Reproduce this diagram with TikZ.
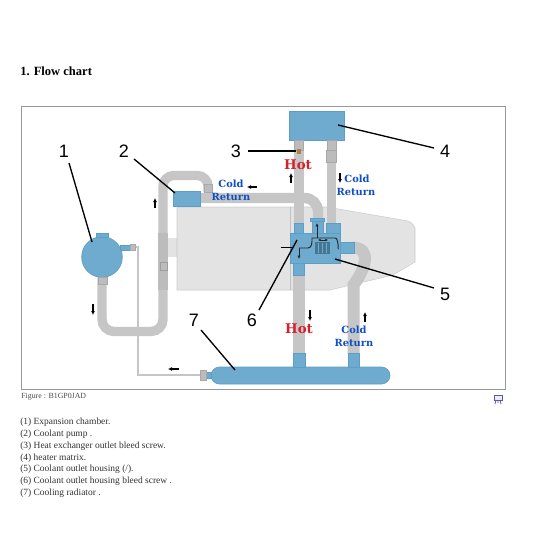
\documentclass[tikz,border=0pt]{standalone}
\usepackage{fontspec}
\setmainfont{Liberation Serif}
\newfontfamily\numfont{Liberation Sans}
\newfontfamily\flowfont{DejaVu Serif}
\usepackage{xcolor}
\usetikzlibrary{arrows.meta,positioning}
\definecolor{cpblue}{HTML}{6FABCE}
\definecolor{cpedge}{HTML}{5C9FC6}
\definecolor{cphose}{HTML}{C6C6C6}
\definecolor{cpblock}{HTML}{E3E3E3}
\definecolor{cpframe}{HTML}{989898}
\definecolor{cphot}{HTML}{D9202A}
\definecolor{cpcold}{HTML}{0F4FC4}
\newcommand{\Listline}[2]{\node[listitem] (#1) at (20,#2)}

\begin{document}
\begin{tikzpicture}[
  x=0.75pt,
  y=-0.75pt,
  partbox/.style={fill=cpblue, draw=cpedge, line width=0.5pt},
  hose/.style={draw=cphose, line width=7pt},
  thinhose/.style={draw=cphose, line width=1.8pt},
  fitting/.style={fill=cphose!95!black, draw=cphose!85!black, line width=0.3pt},
  leader/.style={draw=black, line width=1pt},
  number/.style={font=\numfont\fontsize{13.5}{15}\selectfont, inner sep=0pt},
  hotlabel/.style={font=\flowfont\bfseries\fontsize{10}{11}\selectfont, text=cphot, inner sep=0pt},
  coldlabel/.style={font=\flowfont\bfseries\fontsize{7.4}{9}\selectfont, text=cpcold, inner sep=0pt},
  flow/.style={-{Latex[length=3pt,width=3pt]}, draw=black, line width=1pt},
  innerflow/.style={-{Latex[length=2.5pt,width=2.5pt]}, draw=black!85, line width=0.7pt},
  listitem/.style={anchor=west, inner sep=0pt, text=black!80, font=\fontsize{7.1}{9}\selectfont}
]
\useasboundingbox (0,0) rectangle (560,560);
\fill[white] (0,0) rectangle (560,560);

\node[anchor=west, inner sep=0pt, font=\bfseries\fontsize{9.4}{11}\selectfont] (title) at (20,71) {1. Flow chart};
\draw[cpframe, line width=0.7pt] (21,106) rectangle (505,389);

% engine block
\fill[cpblock] (168,238) rectangle (177,257);
\draw[cpblock!90!black, fill=cpblock, line width=0.4pt] (177,207) -- (327,207) -- (408,221) to[bend left=20] (415,228) -- (415,262) -- (393,275) -- (330,290) -- (177,290) -- cycle;
\draw[cpblock!85!black, line width=0.4pt] (290,207) -- (290,290);

% hoses
\draw[hose, rounded corners=9pt] (102,277) -- (102,331.5) -- (163,331.5) -- (163,240);
\draw[hose, rounded corners=8pt] (163,240) -- (163,175.5) -- (208,175.5) -- (208,192);
\draw[hose, rounded corners=10pt, line width=7.8pt] (198,198) -- (318,198) -- (318,219);
\draw[hose] (299,150) -- (299,232);
\draw[hose] (331.5,150) -- (331.5,232);
\draw[hose, line width=9pt] (299,263) -- (299,354);
\draw[hose, line width=9pt] (352,247.5) .. controls (372,247.5) and (366,268) .. (353.5,285) -- (353.5,354);
\draw[thinhose] (122,247) -- (138,247) -- (138,375) -- (202,375);
\fill[cphose!95!black] (158,233) rectangle (168,290);
\draw[cphose!80!black, line width=0.3pt] (160,262) rectangle (167,270);

% expansion chamber
\node[partbox, circle, minimum size=30.5pt, inner sep=0pt] (chamber) at (102,257) {};
\draw[partbox] (96,233) rectangle (108,237);
\draw[partbox] (120,245) rectangle (130,250);
\draw[fitting] (130,244.5) rectangle (135,250);
\draw[fitting] (98,277) rectangle (107,284);

% pump
\draw[partbox] (173,191) rectangle (200,206);
\draw[fitting] (204,184) rectangle (212,192);

% heater matrix
\draw[partbox] (289,111) rectangle (344,140);
\draw[fitting] (294.5,140) rectangle (303.5,150);
\draw[fitting] (327,140) rectangle (336,150);
\draw[fitting] (326.5,150) rectangle (336.5,162);
\fill[brown!70!gray] (297,149) rectangle (301,154);

% radiator
\draw[partbox, rounded corners=6.5pt] (211,367) rectangle (390,384);
\draw[partbox] (206,372.5) rectangle (211,378);
\draw[fitting] (200,370.5) rectangle (206,380);
\draw[partbox] (293,353) rectangle (305,367);
\draw[partbox] (348,353) rectangle (359,367);

% coolant outlet housing
\draw[partbox] (294,223) rectangle (303,233);
\draw[partbox] (326,223) rectangle (340,233);
\draw[partbox] (312,221) rectangle (323,233);
\draw[partbox] (310,218) rectangle (324,221.5);
\draw[partbox] (340,242) rectangle (354,253);
\draw[partbox] (293,263) rectangle (304,275);
\draw[partbox] (290,233) rectangle (340,263);
\fill[cpedge!75!black] (315,242) rectangle (330,254);
\foreach \stripe in {318,322,326} {
  \draw[cpblue, line width=0.6pt] (\stripe,243) -- (\stripe,253);
}
\fill[gray!80] (298,245) circle (1.6);
\draw[innerflow, -] (299,248) -- (308,248) to[out=0,in=270] (312,238) -- (335,238) to[out=0,in=270] (338,248);
\draw[innerflow] (317,238) -- (317,223);
\draw[innerflow] (299,248) -- (299,259);
\draw[innerflow, <->, >={Latex[length=2pt,width=2pt]}] (318,240) -- (328,240);
\draw[leader, line width=0.6pt] (281,247) -- (293,247);

% number labels
\node[number] (num1) at (64,151) {1};
\node[number] (num2) at (124,151) {2};
\node[number] (num3) at (236,151) {3};
\node[number] (num4) at (445,151) {4};
\node[number] (num5) at (445,294) {5};
\node[number] (num6) at (252,320) {6};
\node[number] (num7) at (194,320) {7};
\coordinate (end1) at (92,242);
\coordinate (end2) at (175,193);
\coordinate (end3) at (296,151);
\coordinate (end4) at (338,125);
\coordinate (end5) at (335,259);
\coordinate (end6) at (297,240);
\coordinate (end7) at (235,370);
\draw[leader] (69,163) -- (end1);
\draw[leader] (134,159) -- (end2);
\draw[leader] (248,151) -- (end3);
\draw[leader] (434,148) -- (end4);
\draw[leader] (434,288) -- (end5);
\draw[leader] (259,310) -- (end6);
\draw[leader] (201,330) -- (end7);

% flow labels
\node[hotlabel] (hot1) at (298,165) {Hot};
\node[hotlabel] (hot2) at (299,329) {Hot};
\node[coldlabel] (cold1) at (231,184) {Cold};
\node[coldlabel] (ret1) at (231,197) {Return};
\node[coldlabel] (cold2) at (357,179) {Cold};
\node[coldlabel] (ret2) at (356,192) {Return};
\node[coldlabel] (cold3) at (354,330) {Cold};
\node[coldlabel] (ret3) at (354,343) {Return};

% flow arrows
\draw[flow] (155,208) -- (155,198);
\draw[flow] (257,187) -- (247,187);
\draw[flow] (93,304) -- (93,315);
\draw[flow] (179,369) -- (168,369);
\draw[flow] (291,183) -- (291,173);
\draw[flow] (340,173) -- (340,183);
\draw[flow] (310,310) -- (310,321);
\draw[flow] (365,322) -- (365,312);

% caption and list
\node[anchor=west, inner sep=0pt, text=black!70, font=\fontsize{5.9}{8}\selectfont] (caption) at (21,397) {Figure : B1GP0JAD};
\Listline{item1}{422} {(1) Expansion chamber.};
\Listline{item2}{434} {(2) Coolant pump .};
\Listline{item3}{446} {(3) Heat exchanger outlet bleed screw.};
\Listline{item4}{458} {(4) heater matrix.};
\Listline{item5}{469.5} {(5) Coolant outlet housing (/).};
\Listline{item6}{481.5} {(6) Coolant outlet housing bleed screw .};
\Listline{item7}{493} {(7) Cooling radiator .};

% slide icon
\draw[gray!70!blue, fill=blue!8, line width=0.5pt] (494,395) rectangle (502,400);
\draw[gray!70!blue, line width=0.6pt] (496,400) -- (495,404) (500,400) -- (501,404) (498,400) -- (498,403);
\end{tikzpicture}
\end{document}
